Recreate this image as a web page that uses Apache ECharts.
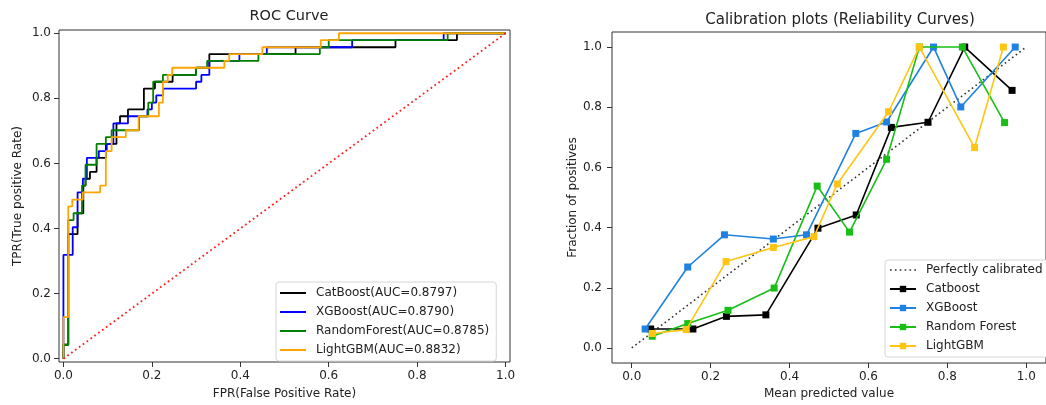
<!DOCTYPE html>
<html>
<head>
<meta charset="utf-8">
<script src="https://cdn.jsdelivr.net/npm/echarts@6/dist/echarts.min.js"></script>
<style>
html,body{margin:0;padding:0;background:#fff;}
#chart{width:1046px;height:405px;}
</style>
</head>
<body>
<div id="chart"></div>
<script>
// ---------- DATA ----------
const tickValues = [0, 0.2, 0.4, 0.6, 0.8, 1.0];

// ROC curves: [FPR, TPR] corner points
const rocNames = ['CatBoost', 'XGBoost', 'RandomForest', 'LightGBM'];
const rocAUC = ['0.8797', '0.8790', '0.8785', '0.8832'];
const catboostROC = [[0,0],[0,0.043],[0.011,0.043],[0.011,0.383],[0.032,0.383],[0.032,0.447],[0.045,0.447],[0.045,0.532],[0.05,0.532],[0.05,0.553],[0.06,0.553],[0.06,0.574],[0.075,0.574],[0.075,0.617],[0.096,0.617],[0.096,0.66],[0.12,0.66],[0.12,0.723],[0.128,0.723],[0.128,0.745],[0.146,0.745],[0.146,0.766],[0.182,0.766],[0.182,0.83],[0.207,0.83],[0.207,0.851],[0.247,0.851],[0.247,0.872],[0.30,0.872],[0.30,0.894],[0.33,0.894],[0.33,0.936],[0.525,0.936],[0.525,0.957],[0.751,0.957],[0.751,0.979],[0.89,0.979],[0.89,1.0],[1,1]];
const xgboostROC = [[0,0],[0,0.319],[0.021,0.319],[0.021,0.404],[0.032,0.404],[0.032,0.511],[0.044,0.511],[0.044,0.553],[0.053,0.553],[0.053,0.617],[0.08,0.617],[0.08,0.638],[0.098,0.638],[0.098,0.66],[0.113,0.66],[0.113,0.723],[0.146,0.723],[0.146,0.745],[0.19,0.745],[0.19,0.766],[0.2,0.766],[0.2,0.787],[0.21,0.787],[0.21,0.809],[0.225,0.809],[0.225,0.83],[0.3,0.83],[0.3,0.851],[0.312,0.851],[0.312,0.872],[0.33,0.872],[0.33,0.915],[0.398,0.915],[0.398,0.936],[0.46,0.936],[0.46,0.957],[0.653,0.957],[0.653,0.979],[0.86,0.979],[0.86,1.0],[1,1]];
const randomForestROC = [[0,0],[0,0.043],[0.011,0.043],[0.011,0.426],[0.023,0.426],[0.023,0.447],[0.042,0.447],[0.042,0.532],[0.05,0.532],[0.05,0.596],[0.075,0.596],[0.075,0.66],[0.096,0.66],[0.096,0.681],[0.109,0.681],[0.109,0.702],[0.171,0.702],[0.171,0.745],[0.192,0.745],[0.192,0.787],[0.203,0.787],[0.203,0.851],[0.225,0.851],[0.225,0.872],[0.3,0.872],[0.3,0.894],[0.325,0.894],[0.325,0.915],[0.441,0.915],[0.441,0.936],[0.58,0.936],[0.58,0.957],[0.6,0.957],[0.6,0.979],[0.869,0.979],[0.869,1.0],[1,1]];
const lightgbmROC = [[0,0],[0,0.128],[0.011,0.128],[0.011,0.468],[0.02,0.468],[0.02,0.489],[0.044,0.489],[0.044,0.511],[0.083,0.511],[0.083,0.532],[0.096,0.532],[0.096,0.638],[0.109,0.638],[0.109,0.681],[0.141,0.681],[0.141,0.702],[0.17,0.702],[0.17,0.745],[0.216,0.745],[0.216,0.787],[0.225,0.787],[0.225,0.851],[0.236,0.851],[0.236,0.872],[0.246,0.872],[0.246,0.894],[0.364,0.894],[0.364,0.915],[0.375,0.915],[0.375,0.936],[0.45,0.936],[0.45,0.957],[0.582,0.957],[0.582,0.979],[0.623,0.979],[0.623,1.0],[1,1]];
const chanceLine = [[0,0],[1,1]];

// Calibration curves: [mean predicted value, fraction of positives]
const calNames = ['Catboost', 'XGBoost', 'Random Forest', 'LightGBM'];
const perfectName = 'Perfectly calibrated';
const perfectLine = [[0,0],[1,1]];
const catboostCal = [[0.048,0.063],[0.155,0.063],[0.240,0.105],[0.340,0.110],[0.472,0.398],[0.569,0.442],[0.658,0.733],[0.751,0.750],[0.844,1.0],[0.964,0.856]];
const xgboostCal = [[0.034,0.063],[0.142,0.269],[0.235,0.376],[0.359,0.362],[0.443,0.376],[0.568,0.713],[0.646,0.751],[0.765,1.0],[0.834,0.801],[0.972,1.0]];
const randomForestCal = [[0.052,0.039],[0.142,0.081],[0.244,0.125],[0.361,0.199],[0.470,0.538],[0.552,0.385],[0.646,0.627],[0.729,1.0],[0.838,1.0],[0.945,0.749]];
const lightgbmCal = [[0.052,0.048],[0.138,0.061],[0.239,0.287],[0.359,0.334],[0.462,0.370],[0.521,0.545],[0.651,0.785],[0.729,1.0],[0.869,0.666],[0.942,1.0]];

// ---------- STYLE ----------
const FONT = 'DejaVu Sans';
const TXT = '#222';
const rocColors = ['#000000', '#0000ff', '#008000', '#ffa500'];
const calColors = ['#000000', '#1f82e0', '#17bf17', '#ffc512'];
const dottedIcon = 'path://M0,0h1.6v1.6h-1.6zM4.6,0h1.6v1.6h-1.6zM9.2,0h1.6v1.6h-1.6zM13.8,0h1.6v1.6h-1.6zM18.4,0h1.6v1.6h-1.6zM23,0h1.6v1.6h-1.6z';

const rocData = [catboostROC, xgboostROC, randomForestROC, lightgbmROC];
const calData = [catboostCal, xgboostCal, randomForestCal, lightgbmCal];
const rocLabels = rocNames.map((n, i) => n + '(AUC=' + rocAUC[i] + ')');

function valAxis(grid, min, max, margin, name, nameGap) {
  return {
    type: 'value', gridIndex: grid, min: min, max: max,
    name: name, nameLocation: 'middle', nameGap: nameGap,
    nameTextStyle: {fontFamily: FONT, fontSize: 12, color: TXT},
    axisLine: {show: false, onZero: false},
    axisTick: {show: true, length: 5, customValues: tickValues, lineStyle: {color: '#333'}},
    axisLabel: {show: true, margin: margin, customValues: tickValues,
      formatter: v => v.toFixed(1), fontFamily: FONT, fontSize: 12, color: TXT},
    splitLine: {show: false}
  };
}

const series = [];
rocData.forEach((d, i) => {
  series.push({
    name: rocLabels[i], type: 'line', xAxisIndex: 0, yAxisIndex: 0,
    data: d, symbol: 'none', showSymbol: false,
    lineStyle: {color: rocColors[i], width: 1.8}, itemStyle: {color: rocColors[i]},
    z: 2 + i
  });
});
series.push({
  name: 'chance', type: 'line', xAxisIndex: 0, yAxisIndex: 0,
  data: chanceLine, symbol: 'none', showSymbol: false,
  lineStyle: {color: '#ff2020', width: 1.8, type: [1.8, 3]}, z: 10
});
series.push({
  name: perfectName, type: 'line', xAxisIndex: 1, yAxisIndex: 1,
  data: perfectLine, symbol: 'none', showSymbol: false,
  lineStyle: {color: '#333', width: 1.6, type: [1.6, 3]}, itemStyle: {color: '#333'}, z: 2
});
calData.forEach((d, i) => {
  series.push({
    name: calNames[i], type: 'line', xAxisIndex: 1, yAxisIndex: 1,
    data: d, symbol: 'rect', symbolSize: 7, showSymbol: true,
    lineStyle: {color: calColors[i], width: 1.6}, itemStyle: {color: calColors[i]},
    z: 3 + i
  });
});

const legendBase = {
  orient: 'vertical', itemWidth: 26, itemGap: 5,
  backgroundColor: '#ffffff', borderColor: '#d6d6d6', borderWidth: 1, borderRadius: 3,
  textStyle: {fontFamily: FONT, fontSize: 12, color: TXT, lineHeight: 14, padding: [0, 0, 0, 5]},
  selectedMode: false
};

const option = {
  animation: false,
  backgroundColor: '#ffffff',
  title: [
    {text: 'ROC Curve', left: 284, top: 4, textAlign: 'center',
     textStyle: {fontFamily: FONT, fontSize: 14.5, fontWeight: 'normal', color: TXT}},
    {text: 'Calibration plots (Reliability Curves)', left: 835, top: 8, textAlign: 'center',
     textStyle: {fontFamily: FONT, fontSize: 15, fontWeight: 'normal', color: TXT}}
  ],
  grid: [
    {left: 59, top: 30, width: 451, height: 338, show: true, borderColor: '#333', borderWidth: 1, backgroundColor: 'transparent'},
    {left: 612, top: 32, width: 446, height: 331, show: true, borderColor: '#333', borderWidth: 1, backgroundColor: 'transparent'}
  ],
  xAxis: [
    valAxis(0, -0.01, 1.01, 8, 'FPR(False Positive Rate)', 26),
    valAxis(1, -0.05, 1.05, 8, 'Mean predicted value', 25)
  ],
  yAxis: [
    valAxis(0, -0.01, 1.01, 8, 'TPR(True positive Rate)', 35),
    valAxis(1, -0.05, 1.05, 10, 'Fraction of positives', 33)
  ],
  legend: [
    Object.assign({}, legendBase, {
      data: rocLabels.map(n => ({name: n, icon: 'rect'})),
      itemHeight: 2, left: 276, top: 282, padding: [4, 7, 4, 4]}),
    Object.assign({}, legendBase, {
      data: [{name: perfectName, icon: dottedIcon}].concat(calNames),
      itemHeight: 8, left: 885, top: 260, padding: [3, 6, 4, 4]})
  ],
  series: series
};

const chart = echarts.init(document.getElementById('chart'), null, {renderer: 'canvas'});
chart.setOption(option);
</script>
</body>
</html>
